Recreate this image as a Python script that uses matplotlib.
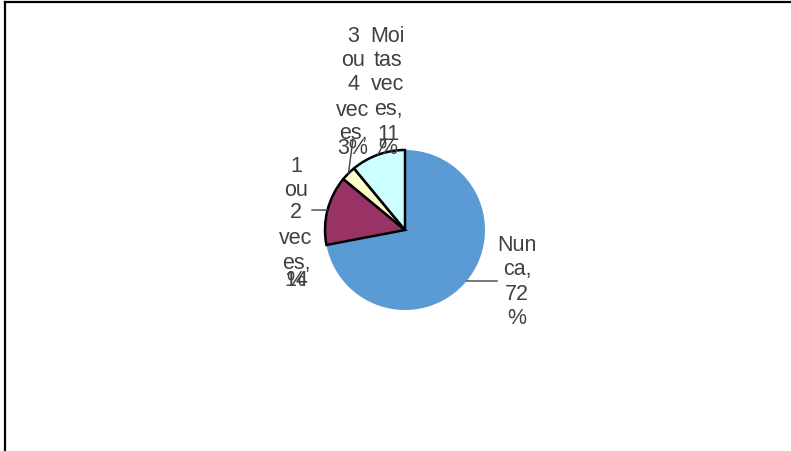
import matplotlib
matplotlib.use("Agg")
import matplotlib.pyplot as plt
import numpy as np
from matplotlib.lines import Line2D

# Data
categories = ["Nunca", "1 ou 2 veces", "3 ou 4 veces", "Moitas veces"]
values = [72, 14, 3, 11]
colors = ["#5b9bd5", "#993366", "#ffffcc", "#ccffff"]

# Labels as they wrap in the original (narrow label boxes), in pixel layout
label_lines = [
    ["Nun", "ca,", "72", "%"],
    ["1", "ou", "2", "vec", "es,", "14", "%"],
    ["3", "ou", "4", "vec", "es,", "3%"],
    ["Moi", "tas", "vec", "es,", "11", "%"],
]
label_x = [517, 296, 353, 388]
label_y = [
    [246, 270, 294, 318],
    [167, 190, 213, 239, 263, 281, 281],
    [37, 61, 85, 110, 134, 149],
    [37, 61, 85, 110, 134, 149],
]
# leader line start point near the label (pixels)
leader_end = [(497, 282), (312, 211), (353, 140), (386, 140)]

W, H = 791, 452
fig = plt.figure(figsize=(W / 100, H / 100), dpi=100)
ax = fig.add_axes([0, 0, 1, 1])

cx, cy, r = 405, H - 231, 80
wedges, _ = ax.pie(values, colors=colors, startangle=90, counterclock=False,
                   center=(cx, cy), radius=r, frame=True,
                   wedgeprops=dict(linewidth=1.8, edgecolor="black"))
ax.set_xlim(0, W)
ax.set_ylim(0, H)
ax.set_aspect("equal")
ax.axis("off")
# blue slice has no outline on its arc
wedges[0].set_edgecolor("none")
wedges[0].set_zorder(1)
for w in wedges[1:]:
    w.set_zorder(2)

txt = "#404040"
for i, w in enumerate(wedges):
    mid = np.deg2rad((w.theta1 + w.theta2) / 2)
    px, py = cx + r * np.cos(mid), cy + r * np.sin(mid)
    ex, ey = leader_end[i]
    ax.plot([px, ex], [py, H - ey], color="#404040", lw=1.0, zorder=3)
    for line, yy in zip(label_lines[i], label_y[i]):
        ax.text(label_x[i], H - yy, line, ha="center", va="center",
                fontsize=15.5, color=txt, zorder=4, family="Liberation Sans")

# outer frame: top and left borders only
fig.add_artist(Line2D([5 / W, 1], [1 - 3 / H, 1 - 3 / H], color="black",
                      lw=1.6, transform=fig.transFigure))
fig.add_artist(Line2D([5 / W, 5 / W], [0, 1 - 3 / H], color="black",
                      lw=1.6, transform=fig.transFigure))

fig.savefig("out.png", dpi=100, facecolor="white")
